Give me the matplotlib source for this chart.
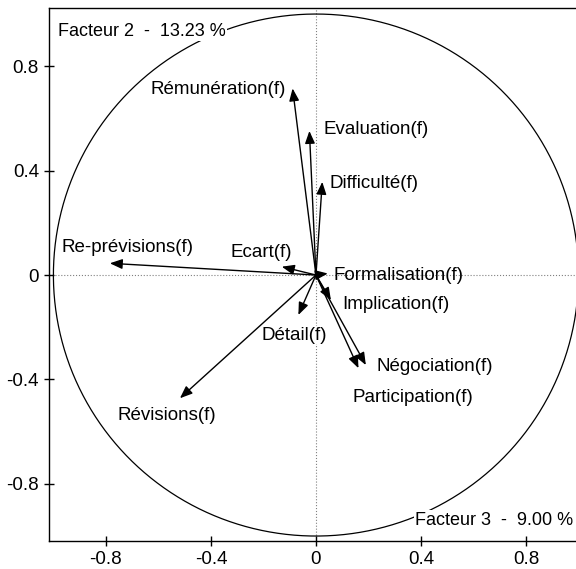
import matplotlib.pyplot as plt
import numpy as np

plt.rcParams['font.family'] = ['Liberation Sans', 'DejaVu Sans']

# coordonnees des variables (facteur 3, facteur 2)
names = ['Rémunération(f)', 'Evaluation(f)', 'Difficulté(f)', 'Re-prévisions(f)',
         'Ecart(f)', 'Formalisation(f)', 'Implication(f)', 'Détail(f)',
         'Négociation(f)', 'Participation(f)', 'Révisions(f)']
fx = [-0.089, -0.025, 0.024, -0.785, -0.13, 0.045, 0.057, -0.067, 0.19, 0.162, -0.518]
fy = [0.715, 0.552, 0.357, 0.045, 0.032, 0.006, -0.096, -0.153, -0.345, -0.357, -0.472]

# position des etiquettes (x, y, alignement)
lab = [(-0.114, 0.709, 'right'), (0.027, 0.556, 'left'), (0.05, 0.352, 'left'),
       (-0.968, 0.107, 'left'), (-0.324, 0.088, 'left'), (0.065, 0.0, 'left'),
       (0.099, -0.111, 'left'), (-0.206, -0.230, 'left'), (0.229, -0.349, 'left'),
       (0.141, -0.471, 'left'), (-0.754, -0.540, 'left')]

ticks = [-0.8, -0.4, 0, 0.4, 0.8]
tick_labels = ['-0.8', '-0.4', '0', '0.4', '0.8']

fs = 13.5

fig = plt.figure(figsize=(5.76, 5.69), dpi=100)
ax = fig.add_axes([0.0845, 0.0492, 0.929, 0.9376])
ax.set_xlim(-1.018, 1.02)
ax.set_ylim(-1.019, 1.025)

ax.axhline(0, color='#808080', ls=':', lw=0.8, zorder=0)
ax.axvline(0, color='#808080', ls=':', lw=0.8, zorder=0)

t = np.linspace(0, 2 * np.pi, 400)
ax.plot(np.cos(t), np.sin(t), color='black', lw=0.9, zorder=1)

for i in range(len(names)):
    ax.annotate('', xy=(fx[i], fy[i]), xytext=(0, 0),
                arrowprops=dict(arrowstyle='-|>,head_length=0.75,head_width=0.3',
                                color='black', lw=1.0, shrinkA=0, shrinkB=0),
                zorder=2)
    x, y, ha = lab[i]
    bb = dict(facecolor='white', edgecolor='none', pad=0.5) if names[i] == 'Détail(f)' else None
    ax.text(x, y, names[i], ha=ha, va='center', fontsize=fs, bbox=bb, zorder=3)

ax.text(-0.983, 0.935, 'Facteur 2  -  13.23 %', ha='left', va='center', fontsize=13,
        bbox=dict(facecolor='white', edgecolor='none', pad=1), zorder=3)
ax.text(0.377, -0.939, 'Facteur 3  -  9.00 %', ha='left', va='center', fontsize=13,
        bbox=dict(facecolor='white', edgecolor='none', pad=1), zorder=3)

ax.set_xticks(ticks)
ax.set_xticklabels(tick_labels)
ax.set_yticks(ticks)
ax.set_yticklabels(tick_labels)
ax.tick_params(direction='inout', length=7, width=1, labelsize=fs)
for s in ax.spines.values():
    s.set_linewidth(1)

fig.savefig('out.png', dpi=100)
